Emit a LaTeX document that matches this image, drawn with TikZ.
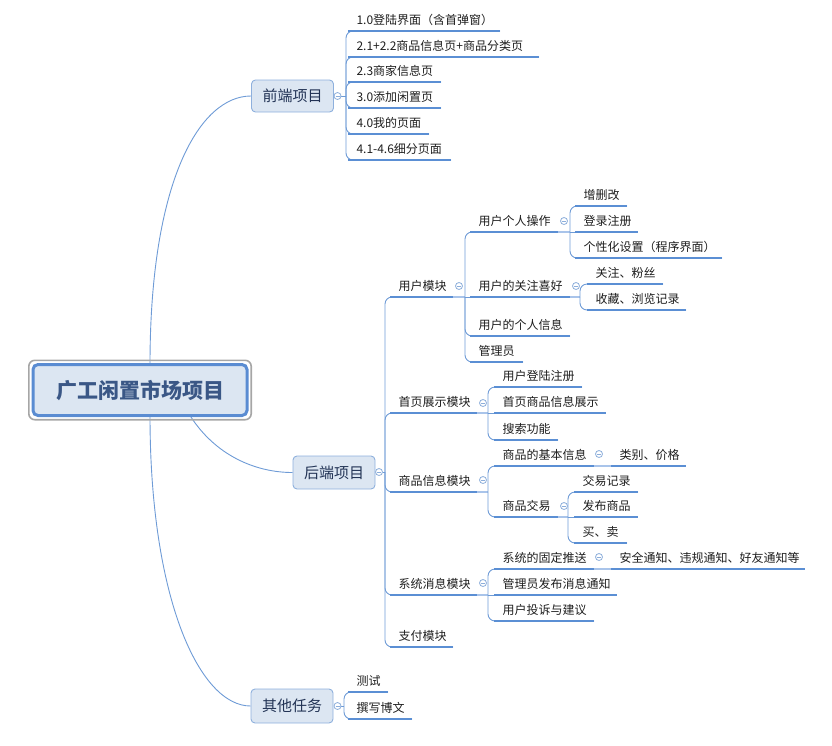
\documentclass[tikz,border=0pt]{standalone}
\usepackage{fontspec}
\setmainfont{Noto Sans CJK SC}
\definecolor{lnc}{HTML}{6E9BD6}
\definecolor{ulc}{HTML}{5B8FD4}
\definecolor{stubc}{HTML}{A9C4EA}
\definecolor{boxfill}{HTML}{DCE6F2}
\definecolor{boxdraw}{HTML}{8EB0DD}
\definecolor{rootdraw}{HTML}{5A8CD2}
\definecolor{rootgray}{HTML}{A6A6A6}
\definecolor{roottxt}{HTML}{3A5786}
\definecolor{lvtxt}{HTML}{223355}
\definecolor{txt}{HTML}{1E1E1E}
\definecolor{clpc}{HTML}{8CAEDB}
\pgfdeclarelayer{bg}
\pgfsetlayers{bg,main}
\newcommand\lf[5]{\pgfmathsetmacro\lfw{#3-#2-17}\node[leaf,text width=\lfw pt] (#1) at (#2,#4) {#5};}
\newcommand\clp[3]{\node[clps] (#1) at (#2,#3) {};\draw[clpc,line width=0.8pt] ([xshift=-2pt]#1.center) -- ([xshift=2pt]#1.center);}
\begin{document}
\begin{tikzpicture}[x=1pt,y=-1pt,
  uline/.style={draw=ulc, line width=1.8pt},
  leaf/.style={anchor=south west, inner xsep=8.5pt, inner ysep=4pt, outer sep=0pt,
    text height=9pt, text depth=3pt, align=left, font=\fontsize{12}{14}\selectfont, text=txt,
    append after command={(\tikzlastnode.south west) edge[uline] (\tikzlastnode.south east)}},
  conn/.style={draw=lnc, line width=0.9pt, rounded corners=7pt},
  stub/.style={draw=stubc, line width=1.2pt},
  topic/.style={draw=boxdraw, fill=boxfill, rounded corners=4pt, line width=0.9pt,
    minimum width=82pt, minimum height=32pt, inner sep=0pt, font=\fontsize{15}{18}\selectfont,
    text=lvtxt, text height=13.2pt, text depth=1.8pt},
  clps/.style={circle, draw=clpc, fill=white, line width=0.8pt, minimum size=7pt, inner sep=0pt},
]
\useasboundingbox (0,0) rectangle (832,745);

% root
\node[draw=rootdraw, line width=3pt, fill=boxfill, rounded corners=5pt, minimum width=214pt,
  minimum height=51pt, inner sep=0pt, outer sep=0pt, font=\bfseries\fontsize{21}{24}\selectfont,
  text=roottxt, text height=18.5pt, text depth=2.5pt] (root) at (140,390) {广工闲置市场项目};
\draw[rootgray, line width=1.6pt, rounded corners=6pt] ([shift={(-4.2,-4.2)}]root.north west) rectangle ([shift={(4.2,4.2)}]root.south east);

% level 1
\node[topic] (F) at (292.5,96) {前端项目};
\node[topic, minimum height=33pt] (B) at (334,472.5) {后端项目};
\node[topic, minimum height=34pt] (O) at (292,706) {其他任务};

% front-end children
\lf{f1}{348}{500}{31}{1.0登陆界面（含首弹窗）}
\lf{f2}{348}{539}{57}{2.1+2.2商品信息页+商品分类页}
\lf{f3}{348}{441}{82}{2.3商家信息页}
\lf{f4}{348}{441}{108}{3.0添加闲置页}
\lf{f5}{348}{429}{134}{4.0我的页面}
\lf{f6}{348}{451}{160}{4.1-4.6细分页面}

% back-end children
\lf{b1}{390}{453}{297}{用户模块}
\lf{b2}{390}{477}{413}{首页展示模块}
\lf{b3}{390}{477}{492}{商品信息模块}
\lf{b4}{390}{477}{595}{系统消息模块}
\lf{b5}{390}{453}{647}{支付模块}

\lf{u1}{470}{558}{232}{用户个人操作}
\lf{u2}{470}{570}{297}{用户的关注喜好}
\lf{u3}{470}{570}{336}{用户的个人信息}
\lf{u4}{470}{523}{362}{管理员}

\lf{u11}{575}{627}{206}{增删改}
\lf{u12}{575}{638}{232}{登录注册}
\lf{u13}{575}{722}{258}{个性化设置（程序界面）}
\lf{u21}{587}{663}{284}{关注、粉丝}
\lf{u22}{587}{686}{310}{收藏、浏览记录}

\lf{h1}{494}{582}{387}{用户登陆注册}
\lf{h2}{494}{606}{413}{首页商品信息展示}
\lf{h3}{494}{558}{440}{搜索功能}

\lf{g1}{494}{594}{466}{商品的基本信息}
\lf{g11}{611}{686}{466}{类别、价格}
\lf{g2}{494}{558}{517}{商品交易}
\lf{g21}{574}{638}{492}{交易记录}
\lf{g22}{574}{638}{517}{发布商品}
\lf{g23}{574}{627}{543}{买、卖}

\lf{s1}{494}{594}{569}{系统的固定推送}
\lf{s11}{611}{805}{569}{安全通知、违规通知、好友通知等}
\lf{s2}{494}{617}{595}{管理员发布消息通知}
\lf{s3}{494}{594}{621}{用户投诉与建议}

% other tasks
\lf{o1}{348}{388}{692}{测试}
\lf{o2}{348}{412}{719}{撰写博文}

% collapse markers
\clp{cF}{337.5}{96}
\clp{cB}{379}{472}
\clp{cO}{337.5}{706}
\clp{c1}{459}{286}
\clp{c2}{483}{403}
\clp{c3}{483}{480}
\clp{c4}{483}{583}
\clp{cu1}{564}{221}
\clp{cu2}{576}{286}
\clp{cg1}{599}{454}
\clp{cg2}{564}{506}
\clp{cs1}{599}{557}

% junction coordinates
\coordinate (jF) at (346,96);
\coordinate (jB) at (385,472);
\coordinate (jO) at (344,706);
\coordinate (j1) at (465,297);
\coordinate (j2) at (488,413);
\coordinate (j3) at (488,492);
\coordinate (j4) at (488,595);
\coordinate (ju1) at (570,232);
\coordinate (ju2) at (580,297);
\coordinate (jg2) at (568,517);

\begin{pgfonlayer}{bg}
\draw[lnc, line width=0.9pt] ([xshift=10pt]root.north) .. controls (150,180) and (200,96) .. (F.west);
\draw[lnc, line width=0.9pt] ([xshift=50pt]root.south) .. controls (215,455) and (255,472.5) .. (B.west);
\draw[lnc, line width=0.9pt] ([xshift=10pt]root.south) .. controls (150,600) and (200,706) .. (O.west);

\draw[conn] (cF.east) -- (jF);
\foreach \c in {f1,f2,f3,f4,f5,f6} \draw[conn] (jF) |- (\c.south east);

\draw[conn] (cB.east) -- (jB);
\foreach \c in {b1,b2,b3,b4,b5} \draw[conn] (jB) |- (\c.south east);

\draw[stub] (b1.south east) -- (j1);
\foreach \c in {u1,u3,u4} \draw[conn] (j1) |- (\c.south east);
\draw[conn] (j1) -- (u2.south east);

\draw[stub] (u1.south east) -- (ju1);
\foreach \c in {u11,u13} \draw[conn] (ju1) |- (\c.south east);
\draw[conn] (ju1) -- (u12.south east);

\draw[stub] (u2.south east) -- (ju2);
\foreach \c in {u21,u22} \draw[conn] (ju2) |- (\c.south east);

\draw[stub] (b2.south east) -- (j2);
\foreach \c in {h1,h3} \draw[conn] (j2) |- (\c.south east);
\draw[conn] (j2) -- (h2.south east);

\draw[stub] (b3.south east) -- (j3);
\foreach \c in {g1,g2} \draw[conn] (j3) |- (\c.south east);
\draw[stub] (g1.south east) -- (g11.south west);

\draw[stub] (g2.south east) -- (jg2);
\foreach \c in {g21,g23} \draw[conn] (jg2) |- (\c.south east);
\draw[conn] (jg2) -- (g22.south east);

\draw[stub] (b4.south east) -- (j4);
\foreach \c in {s1,s3} \draw[conn] (j4) |- (\c.south east);
\draw[conn] (j4) -- (s2.south east);
\draw[stub] (s1.south east) -- (s11.south west);

\draw[conn] (cO.east) -- (jO);
\foreach \c in {o1,o2} \draw[conn] (jO) |- (\c.south east);
\end{pgfonlayer}
\end{tikzpicture}
\end{document}
